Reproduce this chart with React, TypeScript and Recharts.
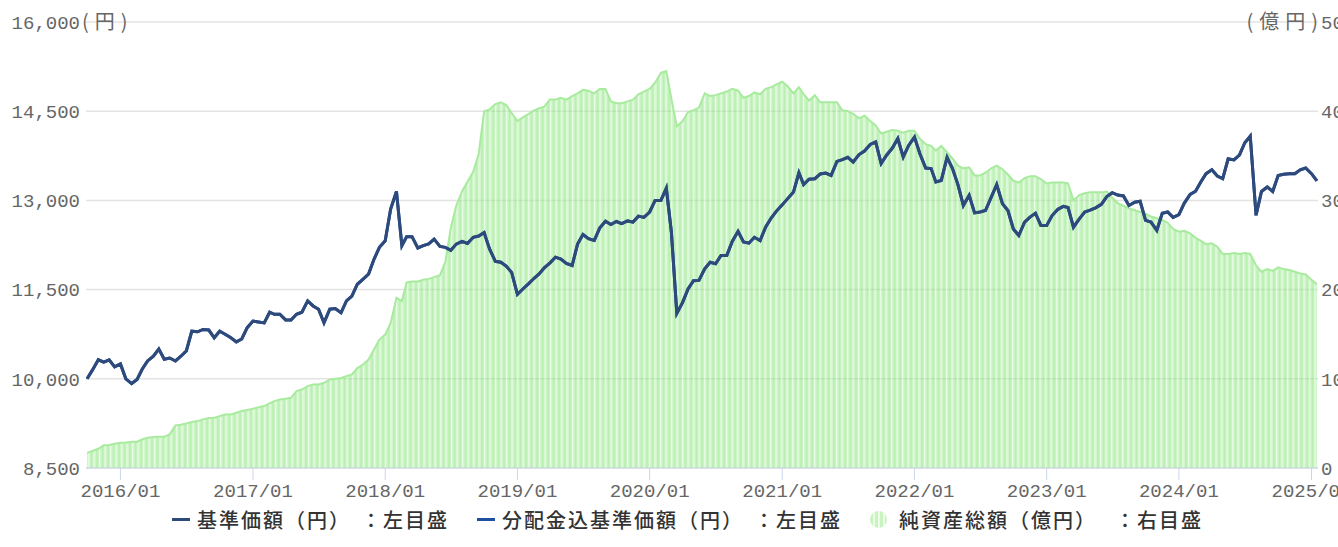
import React from 'react';
import { ComposedChart, Area, Line, XAxis, YAxis, CartesianGrid } from 'recharts';

// semi-monthly samples from 2015/10/01 to 2025/01/16
const nav = [
  10000, 10150, 10320, 10280, 10320, 10200, 10250, 10000, 9920, 9990,
  10160, 10300, 10380, 10500, 10330, 10350, 10300, 10380, 10470, 10800,
  10790, 10830, 10820, 10690, 10800, 10750, 10690, 10620, 10670, 10860,
  10970, 10955, 10940, 11120, 11085, 11085, 10990, 10990, 11085, 11120,
  11310, 11225, 11170, 10940, 11170, 11180, 11110, 11310, 11390, 11590,
  11675, 11760, 12010, 12210, 12320, 12855, 13150, 12240, 12390, 12390,
  12200, 12240, 12270, 12350, 12225, 12210, 12160, 12265, 12310, 12275,
  12380, 12400, 12460, 12185, 11975, 11960, 11895, 11790, 11420, 11510,
  11600, 11690, 11760, 11865, 11950, 12045, 12015, 11940, 11905, 12265,
  12425, 12355, 12325, 12535, 12650, 12595, 12645, 12610, 12655, 12635,
  12735, 12715, 12805, 13000, 13000, 13205, 12465, 11100, 11285, 11510,
  11650, 11655, 11850, 11960, 11935, 12075, 12075, 12310, 12480, 12300,
  12280, 12380, 12325, 12550, 12700, 12820, 12925, 13030, 13140, 13465,
  13265, 13355, 13365, 13445, 13460, 13420, 13655, 13685, 13725, 13645,
  13770, 13830, 13940, 13985, 13620, 13760, 13880, 14040, 13730, 13925,
  14065, 13785, 13545, 13535, 13310, 13335, 13725, 13535, 13265, 12915,
  13085, 12790, 12805, 12830, 13055, 13265, 12945, 12830, 12520, 12410,
  12635, 12720, 12785, 12580, 12580, 12745, 12850, 12900, 12880, 12550,
  12690, 12805, 12835, 12875, 12935, 13065, 13130, 13090, 13075, 12915,
  12970, 12985, 12665, 12635, 12495, 12785, 12805, 12715, 12760, 12955,
  13100, 13155, 13305, 13450, 13515, 13410, 13365, 13700, 13680, 13760,
  13970, 14080, 12750, 13150, 13225, 13150, 13420, 13440, 13450, 13450,
  13515, 13545, 13450, 13330,
];

// no distributions paid, so it matches nav
const navWithDist = nav.slice();

const assets = [
  17, 19, 21.6, 25.4, 25.8, 27.2, 28.4, 28.7, 29.5, 29.5,
  32, 34, 34.7, 35, 35, 37.7, 47.8, 48.5, 50, 51.5,
  52.6, 54.5, 56, 56.3, 58.2, 60, 60, 62, 63.8, 65,
  66.4, 68, 69.4, 72.4, 75, 76.9, 77.6, 78.7, 86.2, 88,
  91.8, 93.7, 93.7, 95.5, 99.3, 100, 101, 103, 105, 112,
  116, 121.6, 132.8, 144, 149.6, 162.7, 190.7, 187, 208, 209,
  209, 211, 212, 214, 216, 231, 269, 294, 310, 321,
  332, 352, 400, 402, 408, 410, 407, 398, 389, 393,
  397, 401, 403, 405, 413, 413, 415, 413, 417, 420,
  424, 423, 420, 425, 425, 411, 409, 409, 411, 413,
  419, 422, 425, 432, 443, 445, 414, 383, 389, 399,
  401, 404, 420, 417, 418, 420, 422, 425, 423, 415,
  417, 421, 419, 425, 427, 430, 433, 428, 420, 427,
  419, 412, 418, 410, 410, 410, 410, 401, 400, 397,
  392, 395, 389, 384, 375, 377, 379, 378, 376, 378,
  378, 369, 363, 361, 356, 361, 354, 347, 339, 336,
  337, 328, 328, 331, 336, 339, 335, 329, 322, 320,
  325, 327, 327, 324, 319, 320, 320, 320, 319, 300,
  306, 308, 309, 309, 309, 310, 303, 297, 294, 291,
  289, 287, 285, 282, 280, 278, 275, 268, 265, 266,
  263, 258, 255, 251, 252, 248, 240, 240, 241, 240,
  241, 240, 227, 220, 223, 221, 225, 223, 222, 220,
  218, 217, 211, 206,
];

const dates = nav.map((_, i) => Date.UTC(2015, 9 + Math.floor(i / 2), i % 2 ? 16 : 1));

const years = [2016, 2017, 2018, 2019, 2020, 2021, 2022, 2023, 2024, 2025];
const xTicks = years.map((y) => Date.UTC(y, 0, 1));
const leftTicks = [8500, 10000, 11500, 13000, 14500, 16000];
const rightTicks = [0, 100, 200, 300, 400, 500];

const rows = dates.map((t, i) => ({ t, nav: nav[i], navWithDist: navWithDist[i], assets: assets[i] }));

const tickFont = { fill: '#666', fontSize: 19, fontFamily: "'Liberation Mono', monospace" };
const cjk = "'Noto Sans CJK JP', sans-serif";

const fmtDate = (t: number) => {
  const d = new Date(t);
  return `${d.getUTCFullYear()}/${String(d.getUTCMonth() + 1).padStart(2, '0')}`;
};

const legendText = { fontFamily: cjk, fontSize: 20, letterSpacing: 2, color: '#333', fontWeight: 500 } as React.CSSProperties;

const App = () => {
  return (
    <div style={{ position: 'absolute', left: 0, top: 0, width: 1338, height: 547, background: '#fff' }}>
      <ComposedChart
        width={1338}
        height={547}
        data={rows}
        margin={{ top: 22, right: 0, left: 0, bottom: 49 }}
      >
        <defs>
          <pattern id="navStripe" patternUnits="userSpaceOnUse" width={5.5} height={8}>
            <rect width={5.5} height={8} fill="#8fe680" fillOpacity={0.45} />
            <rect x={0} width={1.2} height={8} fill="#ffffff" fillOpacity={0.55} />
            <rect x={2.8} width={1.6} height={8} fill="#78d868" fillOpacity={0.22} />
          </pattern>
        </defs>
        <CartesianGrid yAxisId="left" vertical={false} stroke="#e3e3e3" strokeWidth={1.5} />
        <XAxis
          dataKey="t"
          type="number"
          scale="time"
          domain={[Date.UTC(2015, 8, 28), Date.UTC(2025, 0, 19)]}
          ticks={xTicks}
          tickFormatter={fmtDate}
          height={30}
          tick={tickFont}
          tickSize={12}
          tickMargin={4}
          axisLine={{ stroke: '#ccd6eb' }}
          tickLine={{ stroke: '#ccd6eb' }}
          interval={0}
          allowDataOverflow
        />
        <YAxis
          yAxisId="left"
          domain={[8500, 16000]}
          ticks={leftTicks}
          tickFormatter={(v: number) => v.toLocaleString('en-US')}
          width={86}
          tick={tickFont}
          tickSize={0}
          tickMargin={6}
          axisLine={false}
          tickLine={false}
          interval={0}
        />
        <YAxis
          yAxisId="right"
          orientation="right"
          domain={[0, 500]}
          ticks={rightTicks}
          width={20}
          tick={tickFont}
          tickSize={0}
          tickMargin={3}
          axisLine={false}
          tickLine={false}
          interval={0}
        />
        <Area
          yAxisId="right"
          type="linear"
          dataKey="assets"
          stroke="#a8eb9e"
          strokeWidth={2}
          fill="url(#navStripe)"
          fillOpacity={1}
          dot={false}
          activeDot={false}
          isAnimationActive={false}
        />
        <Line
          yAxisId="left"
          type="linear"
          dataKey="navWithDist"
          stroke="#1f4f9f"
          strokeWidth={3}
          dot={false}
          activeDot={false}
          isAnimationActive={false}
        />
        <Line
          yAxisId="left"
          type="linear"
          dataKey="nav"
          stroke="#2e4a7b"
          strokeWidth={3}
          dot={false}
          activeDot={false}
          isAnimationActive={false}
        />
      </ComposedChart>

      <div style={{ position: 'absolute', left: 82, top: 6, fontFamily: cjk, fontSize: 20, letterSpacing: 6, color: '#666' }}>(円)</div>
      <div style={{ position: 'absolute', right: 14, top: 6, fontFamily: cjk, fontSize: 20, letterSpacing: 6, color: '#666' }}>(億円)</div>

      <div style={{ position: 'absolute', left: 172, top: 505, display: 'flex', alignItems: 'center', whiteSpace: 'nowrap' }}>
        <span style={{ display: 'inline-block', width: 18, height: 3, background: '#2e4a7b', marginRight: 7 }} />
        <span style={legendText}>基準価額（円）</span>
        <span style={{ ...legendText, marginLeft: 10 }}>：左目盛</span>
        <span style={{ display: 'inline-block', width: 18, height: 3, background: '#1f4f9f', marginLeft: 28, marginRight: 7 }} />
        <span style={legendText}>分配金込基準価額（円）</span>
        <span style={{ ...legendText, marginLeft: 10 }}>：左目盛</span>
        <span
          style={{
            display: 'inline-block', width: 17, height: 17, borderRadius: 9, marginLeft: 28, marginRight: 12,
            background: 'repeating-linear-gradient(90deg, #c8f4c0 0px, #c8f4c0 3px, #eefbea 3px, #eefbea 5px)',
          }}
        />
        <span style={legendText}>純資産総額（億円）</span>
        <span style={{ ...legendText, marginLeft: 18 }}>：右目盛</span>
      </div>
    </div>
  );
};

export default App;
